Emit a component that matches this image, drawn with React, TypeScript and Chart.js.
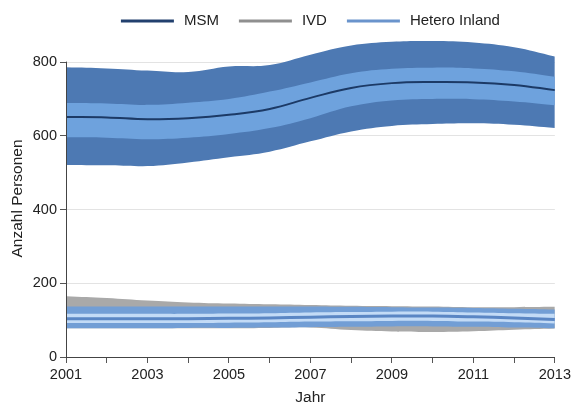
import React, { useEffect, useRef } from 'react';
import { Chart, registerables } from 'chart.js';

Chart.register(...registerables);

const years = [2001, 2002, 2003, 2004, 2005, 2006, 2007, 2008, 2009, 2010, 2011, 2012, 2013];

// MSM
const msmMedian = [651, 650, 645, 648, 657, 673, 703, 730, 743, 746, 745, 738, 724];
const msmInnerLo = [596, 595, 591, 595, 605, 621, 648, 680, 696, 700, 699, 693, 683];
const msmInnerHi = [689, 688, 684, 690, 700, 720, 745, 770, 782, 785, 783, 775, 760];
const msmOuterLo = [521, 520, 518, 528, 542, 557, 585, 612, 627, 632, 634, 630, 621];
const msmOuterHi = [786, 783, 777, 773, 788, 792, 820, 845, 855, 857, 853, 840, 815];

// IVD
const ivdOuterLo = [78, 78, 78, 78, 78, 79, 80, 73, 69, 68, 70, 74, 77];
const ivdOuterHi = [165, 160, 153, 148, 145, 143, 141, 139, 138, 137, 135, 135, 136];

// Hetero Inland
const hetMedian = [104, 104, 104, 104, 105, 106, 108, 110, 111, 111, 109, 106, 102];
const hetInnerLo = [92, 92, 92, 92, 93, 94, 96, 97, 98, 98, 96, 94, 91];
const hetInnerHi = [117, 117, 117, 117, 118, 119, 121, 122, 123, 123, 121, 119, 117];
const hetOuterLo = [78, 78, 78, 79, 79, 80, 81, 82, 83, 83, 82, 80, 78];
const hetOuterHi = [137, 137, 137, 137, 137, 137, 137, 136, 135, 134, 133, 131, 129];

const yTicks = [0, 200, 400, 600, 800];
const legendNames = ['MSM', 'IVD', 'Hetero Inland'];
const legendColors = ['#22406e', '#8f8f8f', '#6a94cc'];

const FONT = 'Liberation Sans, Arial, Helvetica, sans-serif';

const pts = (vals: number[]) => vals.map((v, i) => ({ x: years[i], y: v }));

const base = {
  pointRadius: 0,
  pointHoverRadius: 0,
  tension: 0.4,
};

function band(hi: number[], lo: number[], color: string) {
  return [
    { ...base, data: pts(hi), borderWidth: 0, borderColor: color, backgroundColor: color, fill: '+1' },
    { ...base, data: pts(lo), borderWidth: 0, borderColor: color, backgroundColor: color, fill: false },
  ];
}

function line(vals: number[], color: string, width: number) {
  return { ...base, data: pts(vals), borderWidth: width, borderColor: color, backgroundColor: color, fill: false };
}

const align = (p: number) => Math.round(p - 0.5) + 0.5;

const yAxisLine = {
  id: 'yAxisLine',
  afterDatasetsDraw(chart: any) {
    const ctx = chart.ctx;
    const ys = chart.scales.y;
    const x = align(chart.chartArea.left);
    ctx.save();
    ctx.strokeStyle = '#444';
    ctx.lineWidth = 1;
    ctx.beginPath();
    ctx.moveTo(x, ys.getPixelForValue(yTicks[yTicks.length - 1]) - 0.5);
    ctx.lineTo(x, ys.getPixelForValue(0) + 0.5);
    ctx.stroke();
    ctx.restore();
  },
};

const customLegend = {
  id: 'customLegend',
  afterDraw(chart: any) {
    const ctx = chart.ctx;
    ctx.save();
    ctx.font = `15px ${FONT}`;
    const widths = legendNames.map((n) => ctx.measureText(n).width);
    const lineLen = 53;
    const gapLineText = 10;
    const gapItems = 20;
    const total =
      widths.reduce((a, w) => a + lineLen + gapLineText + w, 0) + gapItems * (legendNames.length - 1);
    let x = (chart.chartArea.left + chart.chartArea.right) / 2 - total / 2;
    const y = 21;
    legendNames.forEach((n, i) => {
      ctx.strokeStyle = legendColors[i];
      ctx.lineWidth = 3;
      ctx.beginPath();
      ctx.moveTo(x, y);
      ctx.lineTo(x + lineLen, y);
      ctx.stroke();
      x += lineLen + gapLineText;
      ctx.fillStyle = '#222';
      ctx.textBaseline = 'middle';
      ctx.textAlign = 'left';
      ctx.fillText(n, x, y);
      x += widths[i] + gapItems;
    });
    ctx.restore();
  },
};

export default function App() {
  const ref = useRef<HTMLCanvasElement | null>(null);

  useEffect(() => {
    if (!ref.current) return;
    const datasets: any[] = [
      line(msmMedian, '#1c3a66', 2),
      ...band(msmInnerHi, msmInnerLo, '#6ea2dd'),
      ...band(msmOuterHi, msmOuterLo, '#4d79b3'),
      line(hetMedian, '#5a86c4', 3),
      ...band(hetInnerHi, hetInnerLo, '#c3dbf6'),
      ...band(hetOuterHi, hetOuterLo, '#729ed5'),
      ...band(ivdOuterHi, ivdOuterLo, '#a9a9a9'),
    ];

    const chart = new Chart(ref.current, {
      type: 'line',
      data: { datasets },
      plugins: [yAxisLine, customLegend],
      options: {
        animation: false,
        responsive: false,
        layout: { padding: { left: 0, right: 17, top: 40, bottom: 0 } },
        plugins: {
          tooltip: { enabled: false },
          legend: { display: false },
        },
        scales: {
          x: {
            type: 'linear',
            min: 2001,
            max: 2013,
            afterFit: (s: any) => { s.height = 48; },
            ticks: {
              stepSize: 1,
              autoSkip: false,
              maxRotation: 0,
              padding: 3,
              color: '#222',
              font: { family: FONT, size: 14.5 },
              callback: (v: any) => (Number(v) % 2 === 1 ? String(v) : ''),
            },
            grid: { drawOnChartArea: false, tickLength: 6, tickColor: '#555' },
            border: { display: true, color: '#444', width: 1 },
            title: {
              display: true,
              text: 'Jahr',
              color: '#222',
              font: { family: FONT, size: 15.5, lineHeight: 1 },
              padding: { top: 0, bottom: 0 },
            },
          },
          y: {
            type: 'linear',
            min: 0,
            max: 860,
            afterFit: (s: any) => { s.width = 66; },
            afterBuildTicks: (s: any) => { s.ticks = yTicks.map((v) => ({ value: v })); },
            ticks: {
              padding: 3,
              color: '#222',
              font: { family: FONT, size: 14.5 },
            },
            grid: { color: '#e3e3e3', tickLength: 6, tickColor: '#555' },
            border: { display: false },
            title: {
              display: true,
              text: 'Anzahl Personen',
              color: '#222',
              font: { family: FONT, size: 15.5, lineHeight: 1 },
              padding: { top: 10, bottom: 0 },
            },
          },
        },
      } as any,
    });
    return () => chart.destroy();
  }, []);

  return (
    <div style={{ position: 'fixed', left: 0, top: 0, width: 574, height: 405, background: '#fff' }}>
      <canvas ref={ref} width={574} height={405} style={{ width: 574, height: 405 }} />
    </div>
  );
}
